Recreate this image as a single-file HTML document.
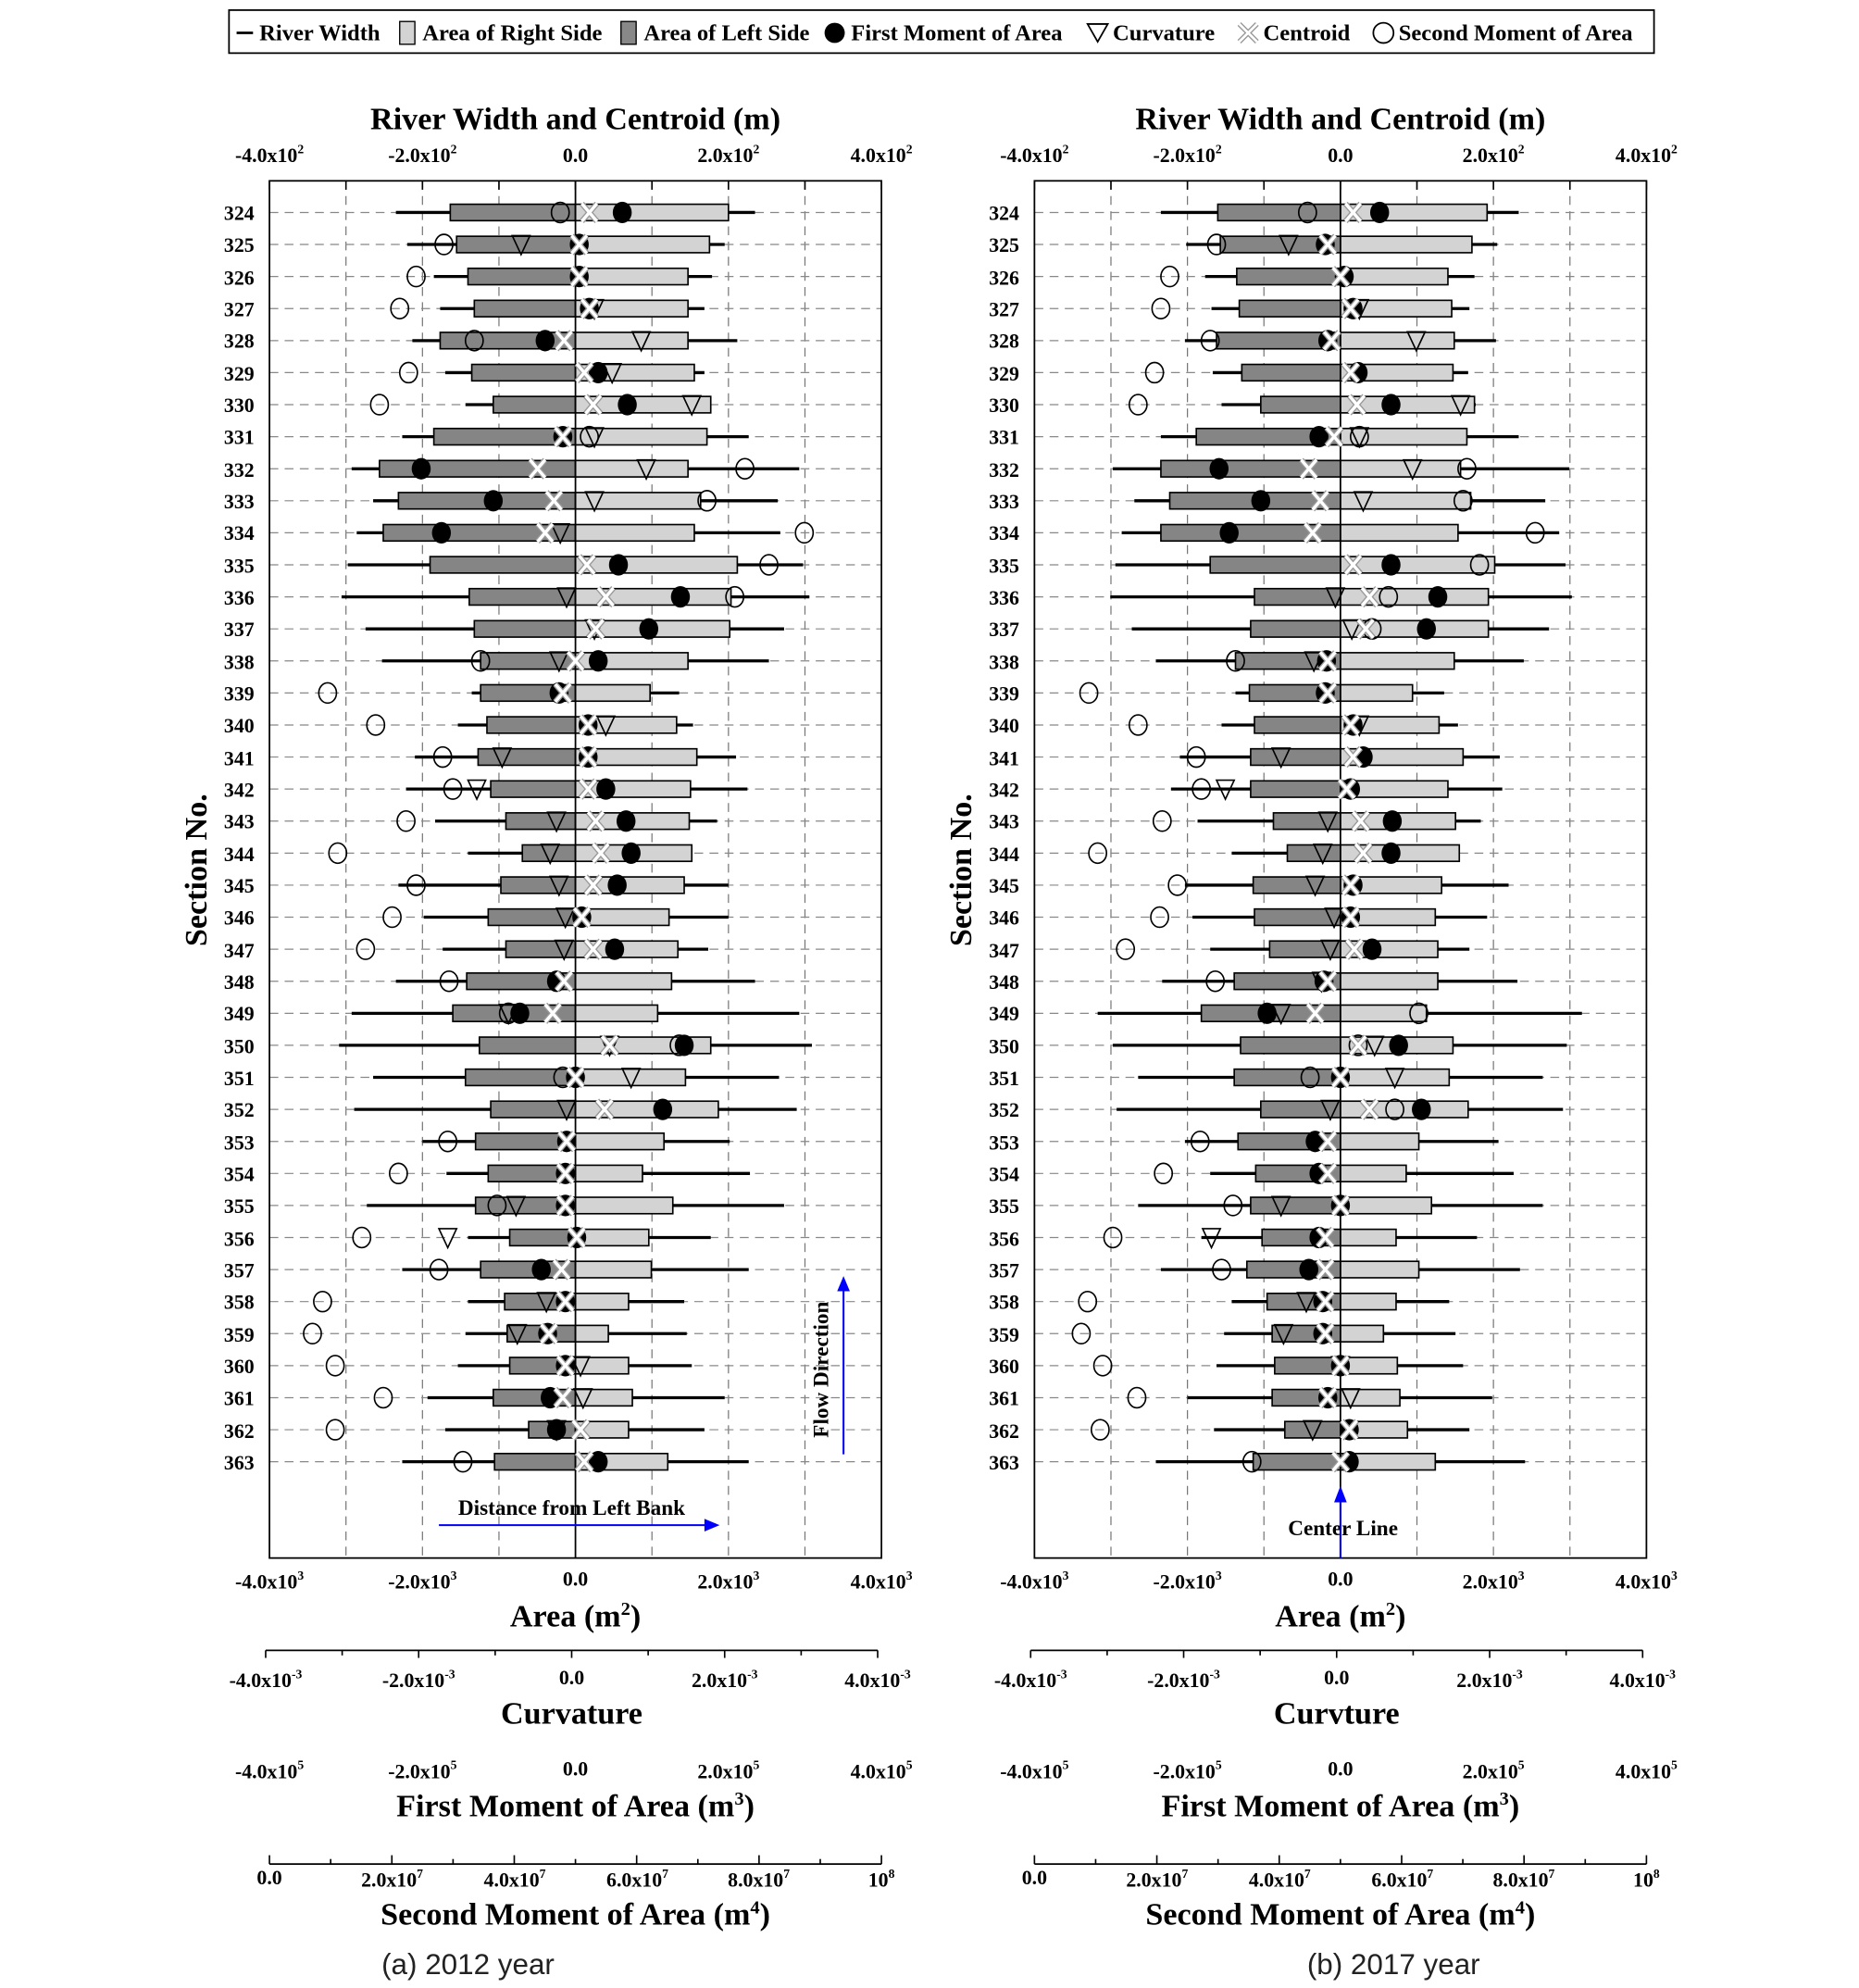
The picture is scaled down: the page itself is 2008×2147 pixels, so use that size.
<!DOCTYPE html>
<html><head><meta charset="utf-8">
<style>
html,body{margin:0;padding:0;background:#fff;}
svg{display:block;}
.t{font-family:"Liberation Serif",serif;font-weight:bold;fill:#000;}
.s{font-family:"Liberation Sans","DejaVu Sans",sans-serif;fill:#222;}
</style></head><body>
<svg id="svg" xmlns="http://www.w3.org/2000/svg" width="2008" height="2147" viewBox="0 0 1470 1572">
<rect x="0" y="0" width="1470" height="1572" fill="#fff"/>
<!-- legend -->
<rect x="181" y="8" width="1127" height="34" fill="#fff" stroke="#000" stroke-width="1.3"/>
<line x1="187" y1="26" x2="200" y2="26" stroke="#000" stroke-width="2"/>
<text class="t" x="205" y="32" font-size="18">River Width</text>
<rect x="316" y="17" width="12" height="18" fill="#d3d3d3" stroke="#000"/>
<text class="t" x="334" y="32" font-size="18">Area of Right Side</text>
<rect x="491" y="17" width="12" height="18" fill="#888" stroke="#000"/>
<text class="t" x="509" y="32" font-size="18">Area of Left Side</text>
<circle cx="660" cy="26" r="8" fill="#000"/>
<text class="t" x="673" y="32" font-size="18">First Moment of Area</text>
<path d="M860 19 L876 19 L868 33 Z" fill="none" stroke="#000" stroke-width="1.3"/>
<text class="t" x="880" y="32" font-size="18">Curvature</text>
<path d="M980 19 L994 33 M994 19 L980 33" stroke="#999" stroke-width="4"/>
<path d="M980 19 L994 33 M994 19 L980 33" stroke="#fff" stroke-width="2"/>
<text class="t" x="999" y="32" font-size="18">Centroid</text>
<circle cx="1094" cy="26" r="8" fill="none" stroke="#000" stroke-width="1.3"/>
<text class="t" x="1106" y="32" font-size="18">Second Moment of Area</text>

<g id="panels"></g>

<!-- LEFT texts -->
<g class="t">
<text x="455" y="102" font-size="25" text-anchor="middle">River Width and Centroid (m)</text>
<text x="213" y="128" font-size="16" text-anchor="middle">-4.0x10<tspan dy="-7" font-size="10">2</tspan></text>
<text x="334" y="128" font-size="16" text-anchor="middle">-2.0x10<tspan dy="-7" font-size="10">2</tspan></text>
<text x="455" y="128" font-size="16" text-anchor="middle">0.0</text>
<text x="576" y="128" font-size="16" text-anchor="middle">2.0x10<tspan dy="-7" font-size="10">2</tspan></text>
<text x="697" y="128" font-size="16" text-anchor="middle">4.0x10<tspan dy="-7" font-size="10">2</tspan></text>
<text x="213" y="1256" font-size="16" text-anchor="middle">-4.0x10<tspan dy="-7" font-size="10">3</tspan></text>
<text x="334" y="1256" font-size="16" text-anchor="middle">-2.0x10<tspan dy="-7" font-size="10">3</tspan></text>
<text x="455" y="1254" font-size="16" text-anchor="middle">0.0</text>
<text x="576" y="1256" font-size="16" text-anchor="middle">2.0x10<tspan dy="-7" font-size="10">3</tspan></text>
<text x="697" y="1256" font-size="16" text-anchor="middle">4.0x10<tspan dy="-7" font-size="10">3</tspan></text>
<text x="455" y="1286" font-size="25" text-anchor="middle">Area (m<tspan dy="-9" font-size="15">2</tspan><tspan dy="9">)</tspan></text>
<text x="210" y="1334" font-size="16" text-anchor="middle">-4.0x10<tspan dy="-7" font-size="10">-3</tspan></text>
<text x="331" y="1334" font-size="16" text-anchor="middle">-2.0x10<tspan dy="-7" font-size="10">-3</tspan></text>
<text x="452" y="1332" font-size="16" text-anchor="middle">0.0</text>
<text x="573" y="1334" font-size="16" text-anchor="middle">2.0x10<tspan dy="-7" font-size="10">-3</tspan></text>
<text x="694" y="1334" font-size="16" text-anchor="middle">4.0x10<tspan dy="-7" font-size="10">-3</tspan></text>
<text x="452" y="1363" font-size="25" text-anchor="middle">Curvature</text>
<text x="213" y="1406" font-size="16" text-anchor="middle">-4.0x10<tspan dy="-7" font-size="10">5</tspan></text>
<text x="334" y="1406" font-size="16" text-anchor="middle">-2.0x10<tspan dy="-7" font-size="10">5</tspan></text>
<text x="455" y="1404" font-size="16" text-anchor="middle">0.0</text>
<text x="576" y="1406" font-size="16" text-anchor="middle">2.0x10<tspan dy="-7" font-size="10">5</tspan></text>
<text x="697" y="1406" font-size="16" text-anchor="middle">4.0x10<tspan dy="-7" font-size="10">5</tspan></text>
<text x="455" y="1436" font-size="25" text-anchor="middle">First Moment of Area (m<tspan dy="-9" font-size="15">3</tspan><tspan dy="9">)</tspan></text>
<text x="213" y="1490" font-size="16" text-anchor="middle">0.0</text>
<text x="310" y="1492" font-size="16" text-anchor="middle">2.0x10<tspan dy="-7" font-size="10">7</tspan></text>
<text x="407" y="1492" font-size="16" text-anchor="middle">4.0x10<tspan dy="-7" font-size="10">7</tspan></text>
<text x="504" y="1492" font-size="16" text-anchor="middle">6.0x10<tspan dy="-7" font-size="10">7</tspan></text>
<text x="600" y="1492" font-size="16" text-anchor="middle">8.0x10<tspan dy="-7" font-size="10">7</tspan></text>
<text x="697" y="1492" font-size="16" text-anchor="middle">10<tspan dy="-7" font-size="10">8</tspan></text>
<text x="455" y="1522" font-size="25" text-anchor="middle">Second Moment of Area (m<tspan dy="-9" font-size="15">4</tspan><tspan dy="9">)</tspan></text>
<text x="163" y="688" font-size="25" text-anchor="middle" transform="rotate(-90 163 688)">Section No.</text>
<text x="452" y="1198" font-size="17" text-anchor="middle">Distance from Left Bank</text>
<text x="655" y="1083" font-size="17" text-anchor="middle" transform="rotate(-90 655 1083)">Flow Direction</text>
</g>
<text class="s" x="370" y="1561" font-size="23" text-anchor="middle">(a) 2012 year</text>
<line x1="347" y1="1206" x2="560" y2="1206" stroke="#00f" stroke-width="1.5"/>
<path d="M569 1206 L557 1201 L557 1211 Z" fill="#00f"/>
<line x1="667" y1="1150" x2="667" y2="1018" stroke="#00f" stroke-width="1.5"/>
<path d="M667 1009 L662 1021 L672 1021 Z" fill="#00f"/>

<!-- RIGHT texts -->
<g class="t">
<text x="1060" y="102" font-size="25" text-anchor="middle">River Width and Centroid (m)</text>
<text x="818" y="128" font-size="16" text-anchor="middle">-4.0x10<tspan dy="-7" font-size="10">2</tspan></text>
<text x="939" y="128" font-size="16" text-anchor="middle">-2.0x10<tspan dy="-7" font-size="10">2</tspan></text>
<text x="1060" y="128" font-size="16" text-anchor="middle">0.0</text>
<text x="1181" y="128" font-size="16" text-anchor="middle">2.0x10<tspan dy="-7" font-size="10">2</tspan></text>
<text x="1302" y="128" font-size="16" text-anchor="middle">4.0x10<tspan dy="-7" font-size="10">2</tspan></text>
<text x="818" y="1256" font-size="16" text-anchor="middle">-4.0x10<tspan dy="-7" font-size="10">3</tspan></text>
<text x="939" y="1256" font-size="16" text-anchor="middle">-2.0x10<tspan dy="-7" font-size="10">3</tspan></text>
<text x="1060" y="1254" font-size="16" text-anchor="middle">0.0</text>
<text x="1181" y="1256" font-size="16" text-anchor="middle">2.0x10<tspan dy="-7" font-size="10">3</tspan></text>
<text x="1302" y="1256" font-size="16" text-anchor="middle">4.0x10<tspan dy="-7" font-size="10">3</tspan></text>
<text x="1060" y="1286" font-size="25" text-anchor="middle">Area (m<tspan dy="-9" font-size="15">2</tspan><tspan dy="9">)</tspan></text>
<text x="815" y="1334" font-size="16" text-anchor="middle">-4.0x10<tspan dy="-7" font-size="10">-3</tspan></text>
<text x="936" y="1334" font-size="16" text-anchor="middle">-2.0x10<tspan dy="-7" font-size="10">-3</tspan></text>
<text x="1057" y="1332" font-size="16" text-anchor="middle">0.0</text>
<text x="1178" y="1334" font-size="16" text-anchor="middle">2.0x10<tspan dy="-7" font-size="10">-3</tspan></text>
<text x="1299" y="1334" font-size="16" text-anchor="middle">4.0x10<tspan dy="-7" font-size="10">-3</tspan></text>
<text x="1057" y="1363" font-size="25" text-anchor="middle">Curvture</text>
<text x="818" y="1406" font-size="16" text-anchor="middle">-4.0x10<tspan dy="-7" font-size="10">5</tspan></text>
<text x="939" y="1406" font-size="16" text-anchor="middle">-2.0x10<tspan dy="-7" font-size="10">5</tspan></text>
<text x="1060" y="1404" font-size="16" text-anchor="middle">0.0</text>
<text x="1181" y="1406" font-size="16" text-anchor="middle">2.0x10<tspan dy="-7" font-size="10">5</tspan></text>
<text x="1302" y="1406" font-size="16" text-anchor="middle">4.0x10<tspan dy="-7" font-size="10">5</tspan></text>
<text x="1060" y="1436" font-size="25" text-anchor="middle">First Moment of Area (m<tspan dy="-9" font-size="15">3</tspan><tspan dy="9">)</tspan></text>
<text x="818" y="1490" font-size="16" text-anchor="middle">0.0</text>
<text x="915" y="1492" font-size="16" text-anchor="middle">2.0x10<tspan dy="-7" font-size="10">7</tspan></text>
<text x="1012" y="1492" font-size="16" text-anchor="middle">4.0x10<tspan dy="-7" font-size="10">7</tspan></text>
<text x="1109" y="1492" font-size="16" text-anchor="middle">6.0x10<tspan dy="-7" font-size="10">7</tspan></text>
<text x="1205" y="1492" font-size="16" text-anchor="middle">8.0x10<tspan dy="-7" font-size="10">7</tspan></text>
<text x="1302" y="1492" font-size="16" text-anchor="middle">10<tspan dy="-7" font-size="10">8</tspan></text>
<text x="1060" y="1522" font-size="25" text-anchor="middle">Second Moment of Area (m<tspan dy="-9" font-size="15">4</tspan><tspan dy="9">)</tspan></text>
<text x="768" y="688" font-size="25" text-anchor="middle" transform="rotate(-90 768 688)">Section No.</text>
<text x="1062" y="1214" font-size="17" text-anchor="middle">Center Line</text>
</g>
<text class="s" x="1102" y="1561" font-size="23" text-anchor="middle">(b) 2017 year</text>
<line x1="1060" y1="1232" x2="1060" y2="1186" stroke="#00f" stroke-width="1.5"/>
<path d="M1060 1175 L1055 1188 L1065 1188 Z" fill="#00f"/>

<!-- row labels -->
<g class="t" font-size="16" text-anchor="end">
<text x="201" y="174">324</text><text x="201" y="199">325</text><text x="201" y="225">326</text><text x="201" y="250">327</text><text x="201" y="275">328</text><text x="201" y="301">329</text><text x="201" y="326">330</text><text x="201" y="351">331</text><text x="201" y="377">332</text><text x="201" y="402">333</text><text x="201" y="427">334</text><text x="201" y="453">335</text><text x="201" y="478">336</text><text x="201" y="503">337</text><text x="201" y="529">338</text><text x="201" y="554">339</text><text x="201" y="579">340</text><text x="201" y="605">341</text><text x="201" y="630">342</text><text x="201" y="655">343</text><text x="201" y="681">344</text><text x="201" y="706">345</text><text x="201" y="731">346</text><text x="201" y="757">347</text><text x="201" y="782">348</text><text x="201" y="807">349</text><text x="201" y="833">350</text><text x="201" y="858">351</text><text x="201" y="883">352</text><text x="201" y="909">353</text><text x="201" y="934">354</text><text x="201" y="959">355</text><text x="201" y="985">356</text><text x="201" y="1010">357</text><text x="201" y="1035">358</text><text x="201" y="1061">359</text><text x="201" y="1086">360</text><text x="201" y="1111">361</text><text x="201" y="1137">362</text><text x="201" y="1162">363</text>
</g>
<g class="t" font-size="16" text-anchor="end">
<text x="806" y="174">324</text><text x="806" y="199">325</text><text x="806" y="225">326</text><text x="806" y="250">327</text><text x="806" y="275">328</text><text x="806" y="301">329</text><text x="806" y="326">330</text><text x="806" y="351">331</text><text x="806" y="377">332</text><text x="806" y="402">333</text><text x="806" y="427">334</text><text x="806" y="453">335</text><text x="806" y="478">336</text><text x="806" y="503">337</text><text x="806" y="529">338</text><text x="806" y="554">339</text><text x="806" y="579">340</text><text x="806" y="605">341</text><text x="806" y="630">342</text><text x="806" y="655">343</text><text x="806" y="681">344</text><text x="806" y="706">345</text><text x="806" y="731">346</text><text x="806" y="757">347</text><text x="806" y="782">348</text><text x="806" y="807">349</text><text x="806" y="833">350</text><text x="806" y="858">351</text><text x="806" y="883">352</text><text x="806" y="909">353</text><text x="806" y="934">354</text><text x="806" y="959">355</text><text x="806" y="985">356</text><text x="806" y="1010">357</text><text x="806" y="1035">358</text><text x="806" y="1061">359</text><text x="806" y="1086">360</text><text x="806" y="1111">361</text><text x="806" y="1137">362</text><text x="806" y="1162">363</text>
</g>
</svg>
<script>
(function(){
var NS="http://www.w3.org/2000/svg";
var g=document.getElementById("panels");
function el(n,a){var e=document.createElementNS(NS,n);for(var k in a)e.setAttribute(k,a[k]);g.appendChild(e);return e;}
var L=[
[313,597,356,576,492,null,466,443],[322,573,361,561,458,412,458,351],[343,563,370,544,458,null,458,329],[348,557,375,544,466,470,466,316],
[326,583,348,544,431,507,446,375],[352,557,373,549,473,484,462,323],[368,561,390,562,496,547,469,300],[318,592,343,559,445,470,445,466],
[278,632,300,544,333,511,425,589],[295,615,315,554,390,470,438,559],[282,617,303,549,349,443,431,636],[275,635,340,583,489,null,464,608],
[270,640,371,578,538,448,479,581],[289,620,375,577,513,470,471,null],[302,608,380,544,473,442,455,380],[373,537,380,514,442,null,445,259],
[362,548,385,535,465,479,465,297],[328,582,378,551,465,397,465,350],[321,591,388,546,479,377,465,358],[344,567,400,545,495,440,471,321],
[370,547,413,547,499,435,475,267],[315,576,396,541,488,442,469,329],[335,576,386,529,460,447,460,310],[350,560,400,536,486,446,469,289],
[313,597,369,531,440,null,446,355],[278,632,358,520,411,402,437,402],[268,642,379,562,541,482,482,537],[295,616,368,542,455,499,455,445],
[280,630,388,568,524,448,478,null],[334,577,376,525,448,null,448,354],[353,593,386,508,447,null,447,315],[290,620,376,532,447,408,447,393],
[370,562,403,513,456,354,456,286],[318,592,380,515,428,null,444,347],[370,541,399,497,447,432,447,255],[368,543,401,481,433,409,434,247],
[362,547,403,497,447,459,447,265],[338,573,390,500,435,461,445,303],[352,557,418,497,440,440,459,265],[318,592,391,528,473,null,462,366]];
var R=[
[918,1201,963,1176,1091,null,1070,1034],[938,1184,965,1164,1048,1019,1050,962],[953,1166,978,1145,1063,null,1060,925],[958,1162,980,1148,1070,1075,1068,918],
[937,1183,962,1150,1050,1120,1053,957],[959,1161,982,1149,1074,null,1068,913],[966,1167,997,1166,1100,1155,1073,900],[918,1201,946,1160,1043,1075,1055,1075],
[880,1241,918,1155,964,1117,1035,1160],[897,1222,925,1163,997,1078,1044,1157],[887,1233,918,1153,972,null,1038,1214],[882,1238,957,1182,1100,null,1070,1170],
[878,1243,992,1177,1137,1056,1083,1098],[895,1225,989,1177,1128,1069,1080,1085],[914,1205,977,1150,1049,1039,1050,977],[977,1142,988,1117,1048,null,1050,861],
[966,1153,992,1138,1070,1075,1068,900],[933,1186,989,1157,1078,1013,1070,946],[926,1188,989,1145,1068,969,1065,950],[947,1171,1007,1151,1101,1050,1076,919],
[974,1154,1018,1154,1100,1046,1078,868],[937,1193,991,1140,1070,1040,1068,931],[943,1176,992,1135,1068,1055,1068,917],[957,1162,1004,1137,1085,1052,1071,890],
[919,1200,976,1137,1047,1045,1050,961],[868,1251,950,1128,1002,1013,1040,1122],[880,1239,981,1149,1106,1087,1074,1074],[900,1220,976,1146,1060,1103,1060,1036],
[883,1236,997,1161,1124,1052,1083,1103],[937,1185,979,1122,1040,null,1050,949],[957,1197,993,1112,1043,null,1050,920],[900,1220,989,1132,1060,1013,1060,975],
[950,1168,998,1104,1043,958,1048,880],[918,1202,986,1122,1035,null,1048,966],[974,1146,1002,1104,1046,1033,1048,860],[968,1151,1006,1094,1046,1015,1048,855],
[962,1157,1008,1105,1060,1060,1060,872],[939,1180,1006,1107,1050,1068,1050,899],[960,1162,1016,1113,1067,1038,1067,870],[914,1206,991,1135,1067,null,1060,990]];
function panel(z,D){
  var x0=z-242,x1=z+242;
  for(var i=-3;i<=3;i++){if(i==0)continue;var x=z+i*60.5;el("line",{x1:x,y1:143,x2:x,y2:1232,stroke:"#777","stroke-width":0.9,"stroke-dasharray":"7,5"});}
  for(var r=0;r<40;r++){var y=168+r*25.33;el("line",{x1:x0,y1:y,x2:x1,y2:y,stroke:"#888","stroke-width":0.9,"stroke-dasharray":"7,5"});}
  for(var i=-4;i<=4;i++){var x=z+i*60.5;el("line",{x1:x,y1:143,x2:x,y2:150,stroke:"#000","stroke-width":1.2});}
  el("rect",{x:x0,y:143,width:484,height:1089,fill:"none",stroke:"#000","stroke-width":1.3});
  for(var r=0;r<40;r++){var d=D[r],y=168+r*25.33;
    el("line",{x1:d[0],y1:y,x2:d[1],y2:y,stroke:"#000","stroke-width":2.4});
    el("rect",{x:d[2],y:y-6.5,width:z-d[2],height:13,fill:"#858585",stroke:"#000","stroke-width":1.2});
    el("rect",{x:z,y:y-6.5,width:d[3]-z,height:13,fill:"#d3d3d3",stroke:"#000","stroke-width":1.2});
  }
  el("line",{x1:z,y1:143,x2:z,y2:1232,stroke:"#000","stroke-width":1.3});
  for(var r=0;r<40;r++){var d=D[r],y=168+r*25.33;
    if(d[7]!=null)el("ellipse",{cx:d[7],cy:y,rx:7,ry:8,fill:"none",stroke:"#000","stroke-width":1.2});
    if(d[5]!=null)el("path",{d:"M"+(d[5]-7)+" "+(y-7)+" L"+(d[5]+7)+" "+(y-7)+" L"+d[5]+" "+(y+8)+" Z",fill:"none",stroke:"#000","stroke-width":1.2});
    el("ellipse",{cx:d[4],cy:y,rx:7.5,ry:8.5,fill:"#000"});
    var c=d[6],p="M"+(c-6)+" "+(y-7)+" L"+(c+6)+" "+(y+7)+" M"+(c+6)+" "+(y-7)+" L"+(c-6)+" "+(y+7);
    el("path",{d:p,stroke:"#999","stroke-width":4.5});
    el("path",{d:p,stroke:"#fff","stroke-width":2.5});
  }
  var xa=z-245;
  el("line",{x1:xa,y1:1305,x2:xa+484,y2:1305,stroke:"#000","stroke-width":1.3});
  for(var i=0;i<=8;i++){var x=xa+i*60.5;el("line",{x1:x,y1:1305,x2:x,y2:(i%2==0?1311:1309),stroke:"#000","stroke-width":1.2});}
  el("line",{x1:x0,y1:1474,x2:x1,y2:1474,stroke:"#000","stroke-width":1.3});
  for(var i=0;i<=10;i++){var x=x0+i*48.4;el("line",{x1:x,y1:1474,x2:x,y2:(i%2==0?1467:1470),stroke:"#000","stroke-width":1.2});}
}
panel(455,L);panel(1060,R);
})();
</script>
</body></html>
